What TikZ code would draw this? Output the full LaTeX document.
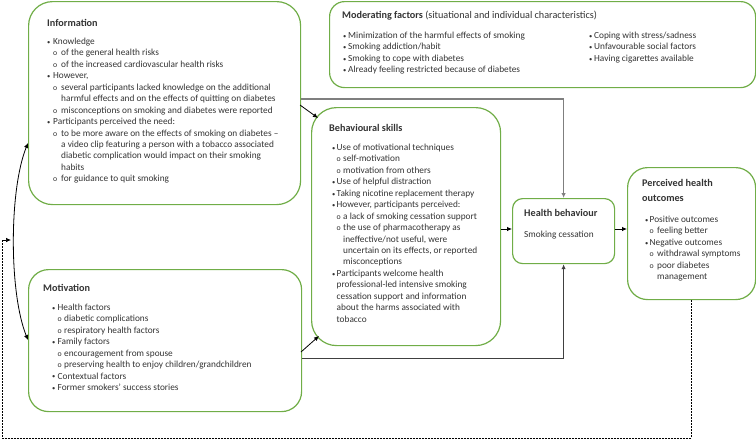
\documentclass[tikz,border=0pt]{standalone}
\usepackage{fontspec}
\setmainfont{Carlito}
\usetikzlibrary{arrows.meta}
\definecolor{boxgreen}{HTML}{70AD47}
\definecolor{txtcol}{HTML}{333333}
\definecolor{lgray}{HTML}{7F7F7F}
\definecolor{dgray}{HTML}{404040}
\newlength\bw \newlength\sw
\newcommand\bitm[1]{\makebox[\bw][l]{\raisebox{0.2pt}{\fontsize{6.5}{6.5}\selectfont\textbullet}}#1}
\newcommand\sitm[1]{\hspace*{\bw}\makebox[\sw][l]{\fontsize{7.8}{7.8}\selectfont o}#1}
\newcommand\bcont[1]{\hspace*{\bw}#1}
\newcommand\scont[1]{\hspace*{\bw}\hspace*{\sw}#1}
\tikzset{
  gbox/.style={draw=boxgreen, line width=1.2pt, rounded corners=#1, inner sep=0pt, anchor=north west},
  ttl/.style={anchor=north west, yshift=8.5pt, inner sep=0pt, align=left, text=txtcol, font=\fontsize{10.2}{15}\selectfont\bfseries, execute at begin node={\rule{0pt}{8.5pt}}},
  lst/.style 2 args={anchor=north west, yshift=7.2pt, inner sep=0pt, align=left, text=txtcol, font=\fontsize{9.3}{11.45}\selectfont, /utils/exec={\setlength\bw{#1}\setlength\sw{#2}}, execute at begin node={\rule{0pt}{7.2pt}}},
  arr/.style={-{Latex[length=5pt,width=4.5pt]}, line width=0.8pt, black},
  grayline/.style={-{Latex[length=5pt,width=4.5pt]}, line width=1.6pt, lgray},
  dline/.style={-{Latex[length=5pt,width=4.5pt]}, line width=1pt, dgray},
  fb/.style={-{Latex[length=5pt,width=4.5pt]}, line width=0.7pt, black, dash pattern=on 2pt off 1pt}
}
\begin{document}
\begin{tikzpicture}[x=1pt,y=-1pt]
\useasboundingbox (0,0) rectangle (756,440);
% boxes
\node[gbox=24pt, minimum width=272pt, minimum height=203pt] (info) at (28,1) {};
\node[gbox=15pt, minimum width=426pt, minimum height=86pt] (mod) at (329,1) {};
\node[gbox=25pt, minimum width=189pt, minimum height=238pt] (beh) at (311,107) {};
\node[gbox=10pt, minimum width=102pt, minimum height=65pt] (hb) at (512,198) {};
\node[gbox=20pt, minimum width=128pt, minimum height=132pt] (pho) at (627,167) {};
\node[gbox=20pt, minimum width=273pt, minimum height=142pt] (mot) at (28,269) {};
% Information
\node[ttl] (infotitle) at (47,26) {Information};
\node[lst={6pt}{8pt}] (infolist) at (47,45) {%
\bitm{Knowledge}\\
\sitm{of the general health risks}\\
\sitm{of the increased cardiovascular health risks}\\
\bitm{However,}\\
\sitm{several participants lacked knowledge on the additional}\\
\scont{harmful effects and on the effects of quitting on diabetes}\\
\sitm{misconceptions on smoking and diabetes were reported}\\
\bitm{Participants perceived the need:}\\
\sitm{to be more aware on the effects of smoking on diabetes –}\\
\scont{a video clip featuring a person with a tobacco associated}\\
\scont{diabetic complication would impact on their smoking}\\
\scont{habits}\\
\sitm{for guidance to quit smoking}};
% Moderating
\node[ttl] (modtitle) at (342,18.5) {Moderating factors \mdseries(situational and individual characteristics)};
\node[lst={5pt}{8pt}] (modlist1) at (343,39) {%
\bitm{Minimization of the harmful effects of smoking}\\
\bitm{Smoking addiction/habit}\\
\bitm{Smoking to cope with diabetes}\\
\bitm{Already feeling restricted because of diabetes}};
\node[lst={5pt}{8pt}] (modlist2) at (589,39) {%
\bitm{Coping with stress/sadness}\\
\bitm{Unfavourable social factors}\\
\bitm{Having cigarettes available}};
% Behavioural skills
\node[ttl] (behtitle) at (329,131.5) {Behavioural skills};
\node[lst={4.5pt}{6.5pt}] (behlist) at (332,151) {%
\bitm{Use of motivational techniques}\\
\sitm{self-motivation}\\
\sitm{motivation from others}\\
\bitm{Use of helpful distraction}\\
\bitm{Taking nicotine replacement therapy}\\
\bitm{However, participants perceived:}\\
\sitm{a lack of smoking cessation support}\\
\sitm{the use of pharmacotherapy as}\\
\scont{ineffective/not useful, were}\\
\scont{uncertain on its effects, or reported}\\
\scont{misconceptions}\\
\bitm{Participants welcome health}\\
\bcont{professional-led intensive smoking}\\
\bcont{cessation support and information}\\
\bcont{about the harms associated with}\\
\bcont{tobacco}};
% Health behaviour
\node[ttl] (hbtitle) at (524,216.5) {Health behaviour};
\node[lst={0pt}{0pt}] (hbtext) at (524,237) {Smoking cessation};
% Perceived health outcomes
\node[ttl] (photitle) at (642,187.5) {Perceived health\\outcomes};
\node[lst={4.5pt}{7.5pt}] (pholist) at (645,223) {%
\bitm{Positive outcomes}\\
\sitm{feeling better}\\
\bitm{Negative outcomes}\\
\sitm{withdrawal symptoms}\\
\sitm{poor diabetes}\\
\scont{management}};
% Motivation
\node[ttl] (mottitle) at (43,291.5) {Motivation};
\node[lst={5.5pt}{6.5pt}] (motlist) at (52,311) {%
\bitm{Health factors}\\
\sitm{diabetic complications}\\
\sitm{respiratory health factors}\\
\bitm{Family factors}\\
\sitm{encouragement from spouse}\\
\sitm{preserving health to enjoy children/grandchildren}\\
\bitm{Contextual factors}\\
\bitm{Former smokers’ success stories}};
% connectors
\coordinate (infoA) at (300,105);
\coordinate (behA) at (318,118);
\coordinate (motA) at (301,352);
\coordinate (behB) at (319,336);
\coordinate (infoL) at (28,143);
\coordinate (motL) at (28,340);
\coordinate (fbEnd) at (11,240);
\draw[grayline] (info.east |- 0,99) -| (hb.north);
\draw[dline] (mot.east |- 0,358) -| (hb.south);
\draw[arr] (infoA) -- (behA);
\draw[arr] (motA) -- (behB);
\draw[arr] (beh.east |- 0,229) -- (hb.west |- 0,229);
\draw[arr] (hb.east |- 0,229) -- (pho.west |- 0,229);
\draw[arr, {Latex[length=5pt,width=4.5pt]}-{Latex[length=5pt,width=4.5pt]}] (infoL) .. controls (9,190) and (9,293) .. (motL);
\draw[fb] (pho.south) -- (pho.south |- 0,438) -- (2.5,438) -- (2.5,240) -- (fbEnd);
\end{tikzpicture}
\end{document}
